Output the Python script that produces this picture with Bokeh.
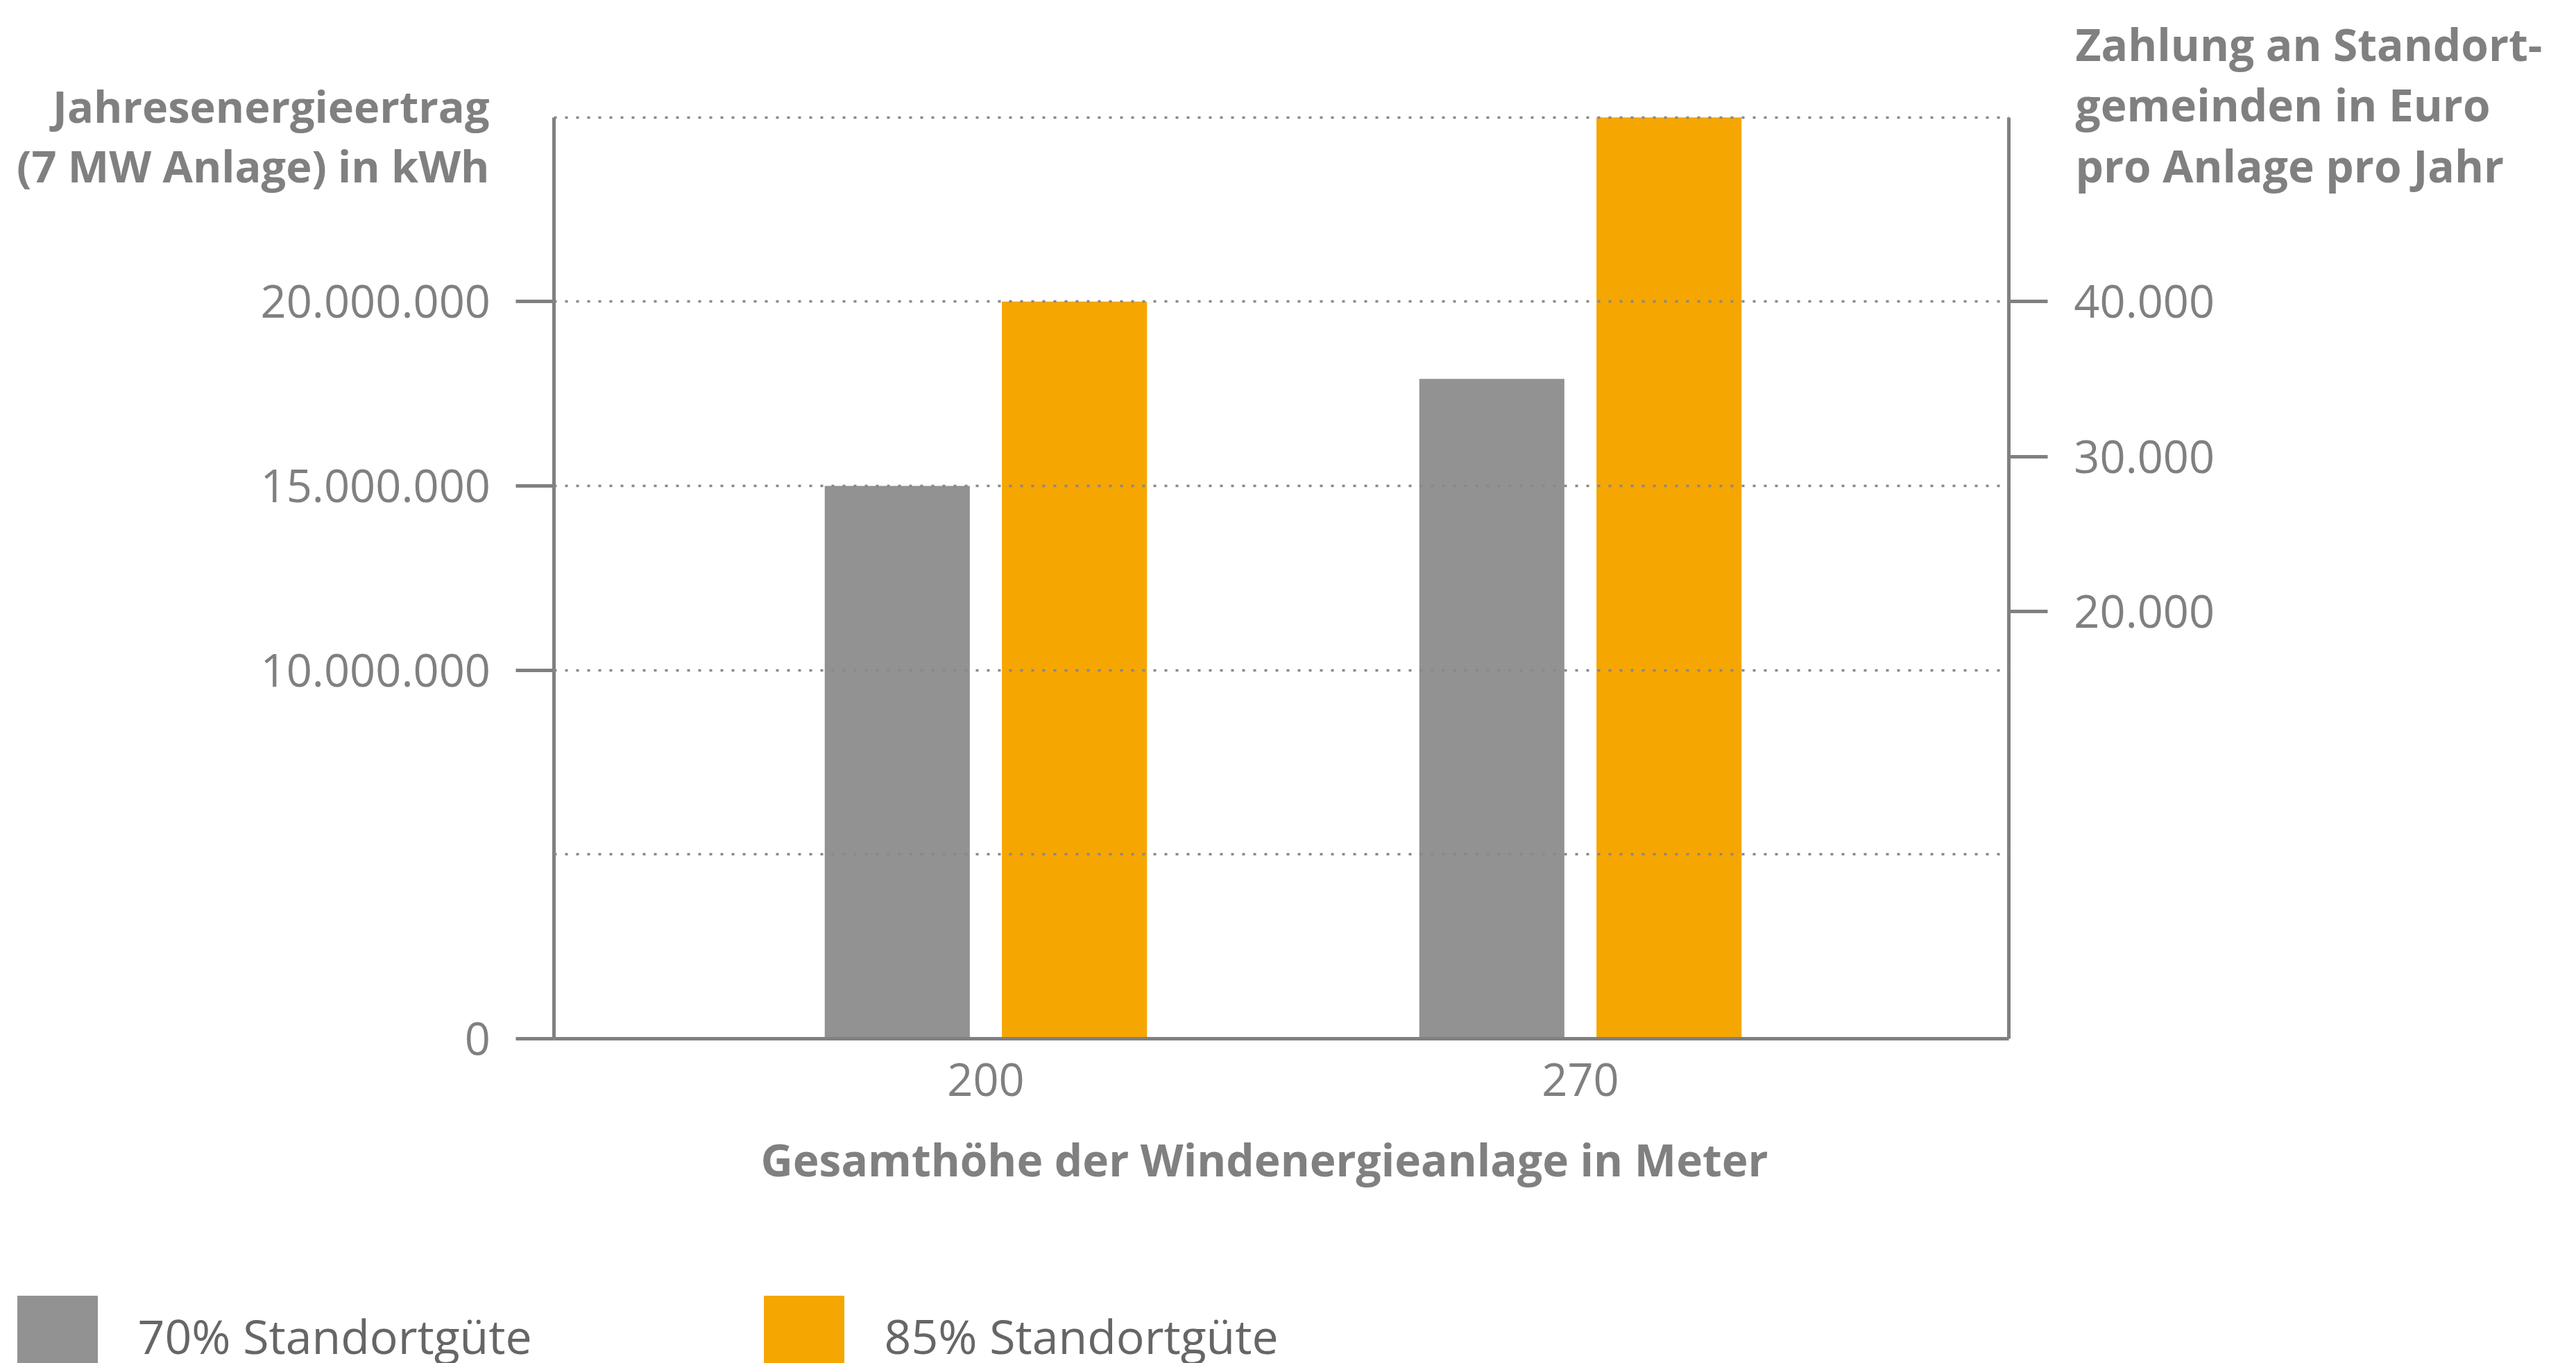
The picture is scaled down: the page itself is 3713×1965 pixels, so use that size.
from bokeh.plotting import figure
from bokeh.models import (FactorRange, Range1d, LinearAxis, FixedTicker, CustomJSTickFormatter,
                          Label, Legend, LegendItem, ColumnDataSource, Grid)
from bokeh.transform import dodge
from bokeh.embed import file_html
from bokeh.resources import INLINE

# ---- data ----
heights = ["200", "270"]
standort_70 = [15_000_000, 17_900_000]
standort_85 = [20_000_000, 25_000_000]
series_labels = ["70% Standortgüte", "85% Standortgüte"]
left_ticks = [0, 10_000_000, 15_000_000, 20_000_000]
grid_ticks = [5_000_000, 10_000_000, 15_000_000, 20_000_000, 25_000_000]
right_ticks = [20_000, 30_000, 40_000]
left_title = ["Jahresenergieertrag", "(7 MW Anlage) in kWh"]
right_title = ["Zahlung an Standort-", "gemeinden in Euro", "pro Anlage pro Jahr"]
x_title = "Gesamthöhe der Windenergieanlage in Meter"

# ---- styling / layout constants (pixels) ----
GRAY_TXT = "#808080"
AXIS = "#808080"
BAR_GRAY = "#929292"
BAR_ORANGE = "#F5A600"
LEG_TXT = "#666666"
FONT = "Open Sans"

PX_PER_CAT = 857.0          # pixels per category slot
CAT0_PX = 1420.5            # pixel centre of first category
ZERO_PX = 1496.7            # pixel row of value 0
PX_PER_20M = 1062.4         # pixels for 20 Mio kWh
W = 3698
H = 1965
TXT_SHIFT = 27              # baseline correction for Label text

def X(px):   # pixel column -> categorical synthetic coordinate
    return 0.5 + (px - CAT0_PX) / PX_PER_CAT

def Y(py):   # pixel row -> kWh
    return (ZERO_PX - py) * 20_000_000 / PX_PER_20M

pad = -X(0)
AX_L, AX_R = X(797.5), X(2894.8)

# right axis (EUR) mapping: 40.000 on the 20 Mio row, 10.000 per 223.3 px
EUR_40K_PX, PX_PER_10K = 434.3, 223.3
def E(py):
    return 40_000 + (EUR_40K_PX - py) / PX_PER_10K * 10_000

source = ColumnDataSource(dict(h=heights, s70=standort_70, s85=standort_85))

p = figure(width=W, height=H,
           x_range=FactorRange(factors=heights, range_padding=pad, range_padding_units="absolute"),
           y_range=Range1d(Y(H), Y(0)),
           output_backend="svg", toolbar_location=None, min_border=0)
p.outline_line_color = None
p.background_fill_color = "white"
p.border_fill_color = "white"

r70 = p.vbar(x=dodge("h", -0.149, range=p.x_range), top="s70", width=0.244, source=source,
             fill_color=BAR_GRAY, line_color=None)
r85 = p.vbar(x=dodge("h", 0.149, range=p.x_range), top="s85", width=0.244, source=source,
             fill_color=BAR_ORANGE, line_color=None)

fmt = CustomJSTickFormatter(code="return Math.round(tick).toString().replace(/\\B(?=(\\d{3})+(?!\\d))/g, '.');")

# grid (dotted, drawn over the bars, only between the two vertical axes)
p.xgrid.grid_line_color = None
yg = p.ygrid[0]
yg.ticker = FixedTicker(ticks=grid_ticks)
if "cross_bounds" in Grid.properties():
    yg.grid_line_color = "#888888"
    yg.grid_line_width = 3.5
    yg.grid_line_dash = "4 12"
    yg.level = "overlay"
    yg.cross_bounds = (AX_L, AX_R)
else:
    yg.grid_line_color = None
    r = p.segment(x0=[AX_L] * len(grid_ticks), x1=[AX_R] * len(grid_ticks), y0=grid_ticks, y1=grid_ticks,
                  line_color="#888888", line_width=3.5, line_dash="4 12")
    r.level = "overlay"

def style_axis(ax, tick_out):
    ax.axis_line_color = AXIS
    ax.axis_line_width = 5
    ax.major_tick_line_color = AXIS if tick_out else None
    ax.major_tick_line_width = 5
    ax.major_tick_out = tick_out
    ax.major_tick_in = 0
    ax.minor_tick_line_color = None
    ax.major_label_text_font = FONT
    ax.major_label_text_font_size = "65px"
    ax.major_label_text_color = GRAY_TXT

ya = p.yaxis[0]
ya.ticker = FixedTicker(ticks=left_ticks)
ya.formatter = fmt
style_axis(ya, 55)
ya.major_label_standoff = 36
ya.fixed_location = AX_L
ya.bounds = (0, 25_000_000)

TOP_PX = ZERO_PX - PX_PER_20M * 25 / 20
p.extra_y_ranges = {"eur": Range1d(E(H), E(0))}
ra = LinearAxis(y_range_name="eur", ticker=FixedTicker(ticks=right_ticks), formatter=fmt)
style_axis(ra, 56)
ra.major_label_standoff = 38
ra.fixed_location = AX_R
ra.bounds = (E(ZERO_PX), E(TOP_PX))
p.add_layout(ra, "right")

xa = p.xaxis[0]
style_axis(xa, 0)
xa.major_label_standoff = 36
xa.fixed_location = 0
xa.bounds = (AX_L, AX_R)

# titles
def lab(px, py, text, align, size="64px", color=GRAY_TXT):
    p.add_layout(Label(x=X(px), y=Y(py - TXT_SHIFT), text=text,
                       text_font=FONT, text_font_size=size, text_font_style="bold",
                       text_color=color, text_align=align, text_baseline="alphabetic"))

for t, py in zip(left_title, [179, 265]):
    lab(705, py, t, "right", size="63px")
for t, py in zip(right_title, [90, 177, 265]):
    lab(2991, py, t, "left")
lab(1822, 1698, x_title, "center")

legend = Legend(items=[LegendItem(label=series_labels[0], renderers=[r70]),
                       LegendItem(label=series_labels[1], renderers=[r85])],
                orientation="horizontal", location=(9.5, H - (1852.5 + 145)),
                glyph_width=145, glyph_height=145, label_standoff=44, label_width=887,
                spacing=0, padding=0, margin=0, border_line_color=None, background_fill_alpha=0,
                label_text_font=FONT, label_text_font_size="68px", label_text_color=LEG_TXT)
p.add_layout(legend)

open("out.html", "w").write(file_html(p, INLINE))
